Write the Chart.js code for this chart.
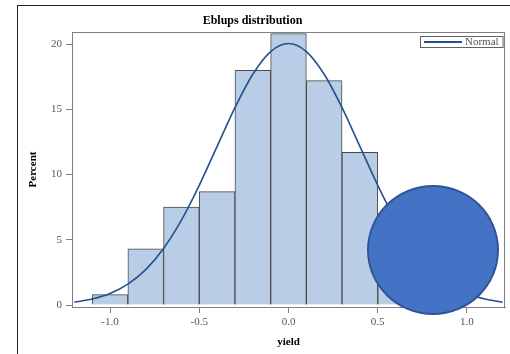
<!DOCTYPE html>
<html>
<head>
<meta charset="utf-8">
<script src="https://cdn.jsdelivr.net/npm/chart.js@4"></script>
<style>
html,body{margin:0;padding:0;background:#fff;overflow:hidden;width:510px;height:354px;}
#wrap{position:relative;width:510px;height:354px;}
canvas{position:absolute;left:0;top:0;}
#frame{position:absolute;left:17px;top:5px;width:600px;height:400px;border-left:1px solid #222;border-top:1px solid #222;box-sizing:border-box;pointer-events:none;}
#blob{position:absolute;left:367px;top:185px;width:132px;height:130px;border-radius:50%;background:#4472C4;border:2px solid #2F5597;box-sizing:border-box;}
</style>
</head>
<body>
<div id="wrap">
<canvas id="c" width="510" height="354"></canvas>
<div id="frame"></div>
<div id="blob"></div>
</div>
<script>
// Histogram bins (centers) and percentages
const binCenters = [-1.0, -0.8, -0.6, -0.4, -0.2, 0.0, 0.2, 0.4, 0.6, 0.8];
const binPercents = [0.8, 4.3, 7.5, 8.7, 18.0, 20.8, 17.2, 11.7, 6.6, 4.4];
// Normal curve points
const curveX = [-1.2, -1.1, -1.0, -0.9, -0.8, -0.7, -0.6, -0.5, -0.4, -0.3, -0.2, -0.1, 0.0, 0.1, 0.2, 0.3, 0.4, 0.5, 0.6, 0.7, 0.8, 0.9, 1.0, 1.1, 1.2];
const curveY = [0.22, 0.46, 0.88, 1.6, 2.71, 4.34, 6.51, 9.18, 12.16, 15.13, 17.69, 19.43, 20.05, 19.43, 17.69, 15.13, 12.16, 9.18, 6.51, 4.34, 2.71, 1.6, 0.88, 0.46, 0.22];
const xTicks = [-1.0, -0.5, 0.0, 0.5, 1.0];
const yTicks = [0, 5, 10, 15, 20];
const titleText = 'Eblups distribution';
const xTitle = 'yield';
const yTitle = 'Percent';
const curveLabel = 'Normal';

const serif = "'Liberation Serif', 'Times New Roman', serif";
const curveColor = '#23508F';

const frameBox = {
  id: 'frameBox',
  afterDatasetsDraw(chart) {
    const a = chart.chartArea, ctx = chart.ctx;
    ctx.save();
    ctx.strokeStyle = '#808080';
    ctx.lineWidth = 1;
    ctx.strokeRect(Math.round(a.left) + 0.5, Math.round(a.top) + 0.5, Math.round(a.right - a.left) - 1, Math.round(a.bottom - a.top));
    ctx.restore();
  },
  afterDraw(chart) {
    // legend box inside plot area, top-right
    const a = chart.chartArea, ctx = chart.ctx;
    const ds = chart.data.datasets[1];
    ctx.save();
    ctx.font = '11px ' + serif;
    const tw = ctx.measureText(ds.label).width;
    const w = 4 + 38 + 3 + tw + 4, h = 11;
    const x = Math.round(a.right - 2 - w), y = Math.round(a.top + 4);
    ctx.strokeStyle = '#606060';
    ctx.lineWidth = 1;
    ctx.strokeRect(x + 0.5, y + 0.5, w, h);
    ctx.strokeStyle = ds.borderColor;
    ctx.lineWidth = 2;
    ctx.beginPath();
    ctx.moveTo(x + 4, y + h / 2 + 0.5);
    ctx.lineTo(x + 42, y + h / 2 + 0.5);
    ctx.stroke();
    ctx.fillStyle = '#555';
    ctx.textBaseline = 'middle';
    ctx.fillText(ds.label, x + 45, y + h / 2 + 1);
    ctx.restore();
  }
};

new Chart(document.getElementById('c'), {
  type: 'bar',
  data: {
    datasets: [
      {
        type: 'bar',
        label: 'Percent',
        data: binCenters.map((c, i) => ({x: c, y: binPercents[i]})),
        backgroundColor: '#B9CEE6',
        borderColor: '#4A4A4A',
        borderWidth: 1,
        barPercentage: 1,
        categoryPercentage: 1,
        order: 2
      },
      {
        type: 'line',
        label: curveLabel,
        data: curveX.map((v, i) => ({x: v, y: curveY[i]})),
        borderColor: curveColor,
        borderWidth: 1.6,
        pointRadius: 0,
        fill: false,
        cubicInterpolationMode: 'monotone',
        order: 1
      }
    ]
  },
  options: {
    responsive: false,
    devicePixelRatio: 1,
    animation: false,
    layout: {padding: {left: 0, right: 5, top: 0, bottom: 0}},
    plugins: {
      legend: {display: false},
      tooltip: {enabled: false},
      title: {
        display: true,
        text: titleText,
        color: '#000',
        font: {family: serif, size: 12, weight: 'bold'},
        padding: {top: 14, bottom: 3.6}
      }
    },
    scales: {
      x: {
        type: 'linear',
        min: -1.213,
        max: 1.213,
        offset: false,
        afterFit: s => { s.height = 47; },
        afterBuildTicks: s => { s.ticks = xTicks.map(v => ({value: v})); },
        grid: {offset: false, drawOnChartArea: false, drawTicks: true, tickLength: 6, color: '#808080'},
        border: {display: true, color: '#808080', width: 1},
        ticks: {
          color: '#555',
          font: {family: serif, size: 11},
          padding: 3,
          maxRotation: 0,
          callback: v => Number(v).toFixed(1)
        },
        title: {display: true, text: xTitle, color: '#000', font: {family: serif, size: 11, weight: 'bold'}, padding: {top: 0, bottom: 5.4}}
      },
      y: {
        type: 'linear',
        min: -0.15,
        max: 20.93,
        afterFit: s => { s.width = 72; },
        afterBuildTicks: s => { s.ticks = yTicks.map(v => ({value: v})); },
        grid: {drawOnChartArea: false, drawTicks: true, tickLength: 6, color: '#808080'},
        border: {display: true, color: '#808080', width: 1},
        ticks: {
          color: '#555',
          font: {family: serif, size: 11},
          padding: 4,
          callback: v => String(v)
        },
        title: {display: true, text: yTitle, color: '#000', font: {family: serif, size: 11, weight: 'bold'}, padding: {top: 27, bottom: 0}}
      }
    }
  },
  plugins: [frameBox]
});
</script>
</body>
</html>
